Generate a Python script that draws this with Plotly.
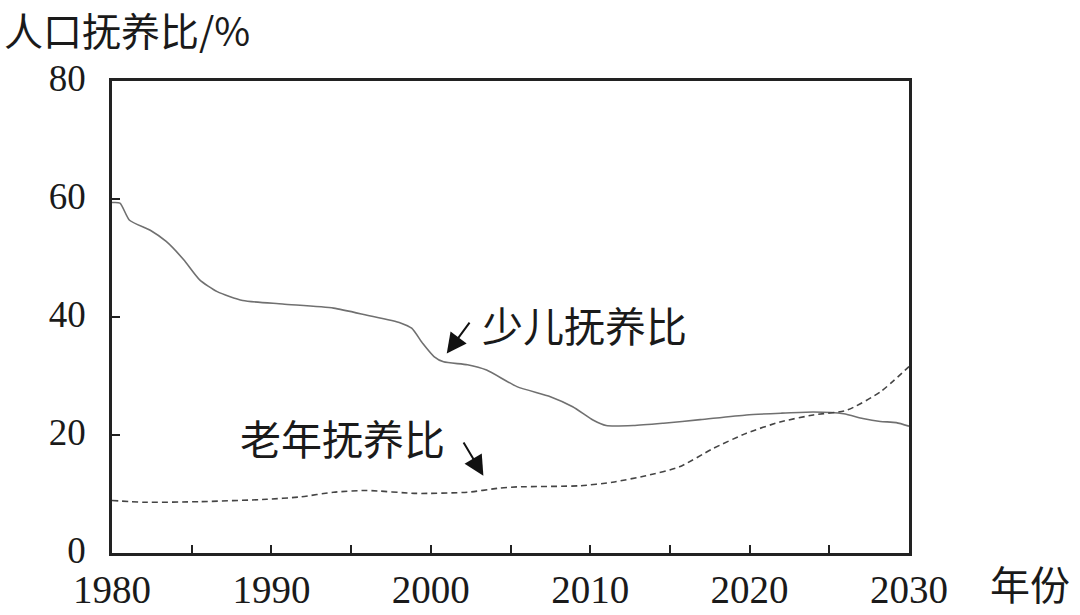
import plotly.graph_objects as go

# 少儿抚养比 (solid)
young_years = [1980.0, 1980.5, 1981.1, 1982.4, 1983.4, 1984.5, 1985.5, 1986.6, 1988.2, 1990.7,
               1993.9, 1996.0, 1998.1, 1998.8, 1999.5, 2000.2, 2000.8, 2002.3, 2003.5, 2005.4, 2007.5,
               2008.9, 2010.2, 2011.0, 2012.7, 2014.6, 2016.9, 2019.8, 2022.0, 2024.0, 2025.9,
               2027.1, 2028.2, 2029.2, 2030.0]
young_vals = [59.4, 59.3, 56.4, 54.7, 52.8, 49.7, 46.3, 44.3, 42.8, 42.2,
              41.5, 40.3, 39.0, 38.1, 35.5, 33.3, 32.4, 31.9, 31.0, 28.2, 26.5,
              24.8, 22.5, 21.6, 21.6, 22.0, 22.6, 23.4, 23.7, 23.9, 23.6,
              22.8, 22.3, 22.1, 21.5]

# 老年抚养比 (dashed)
old_years = [1980.0, 1982.0, 1985.5, 1989.7, 1991.8, 1993.9, 1996.0, 1999.1, 2002.3, 2004.3,
             2005.4, 2009.4, 2011.4, 2013.5, 2015.6, 2017.7, 2019.8, 2021.9, 2024.0, 2026.1,
             2028.2, 2030.0]
old_vals = [8.9, 8.6, 8.7, 9.1, 9.5, 10.3, 10.6, 10.1, 10.3, 11.0,
            11.2, 11.4, 12.0, 13.1, 14.6, 17.7, 20.3, 22.2, 23.4, 24.2,
            27.3, 31.6]

x_tickvals = [1980, 1985, 1990, 1995, 2000, 2005, 2010, 2015, 2020, 2025, 2030]
x_ticktext = ["1980", "", "1990", "", "2000", "", "2010", "", "2020", "", "2030"]
y_tickvals = [0, 20, 40, 60, 80]
y_ticktext = ["0", "20", "40", "60", "80"]

FONT = "Liberation Serif, Noto Sans CJK SC, serif"
CJK = "Noto Sans CJK SC, Liberation Serif, serif"
TXT = "#1a1a1a"

fig = go.Figure()
fig.add_trace(go.Scatter(x=young_years, y=young_vals, mode="lines",
                         line=dict(color="#707070", width=1.6, shape="spline", smoothing=0.6),
                         showlegend=False, hoverinfo="skip"))
fig.add_trace(go.Scatter(x=old_years, y=old_vals, mode="lines",
                         line=dict(color="#444444", width=1.6, dash="6px,4px", shape="spline", smoothing=0.6),
                         showlegend=False, hoverinfo="skip"))

fig.update_layout(
    width=1080, height=615, autosize=False,
    margin=dict(l=112, r=171, t=81, b=62, autoexpand=False),
    paper_bgcolor="white", plot_bgcolor="white",
    font=dict(family=FONT, size=40, color=TXT),
    xaxis=dict(range=[1980, 2030], tickvals=x_tickvals, ticktext=x_ticktext,
               ticks="inside", ticklen=8, tickwidth=2, tickcolor="#222",
               showline=True, mirror=True, linewidth=2.5, linecolor="#222",
               showgrid=False, zeroline=False, ticklabelstandoff=0, automargin=False,
               tickfont=dict(family=FONT, size=39, color=TXT)),
    yaxis=dict(range=[0, 80], tickvals=y_tickvals, ticktext=y_ticktext,
               ticks="inside", ticklen=8, tickwidth=2, tickcolor="#222",
               showline=True, mirror=True, linewidth=2.5, linecolor="#222",
               showgrid=False, zeroline=False, ticklabelstandoff=16, automargin=False,
               ticklabelshift=-3,
               tickfont=dict(family=FONT, size=37, color=TXT)),
)

# titles
fig.add_annotation(text="人口抚养比/%", xref="paper", yref="paper", x=-110/797, y=1 + 52/472,
                   xanchor="left", yanchor="middle", showarrow=False,
                   font=dict(family=CJK, size=39, color=TXT))
fig.add_annotation(text="年份", xref="paper", yref="paper", x=1 + 79/797, y=-30/472,
                   xanchor="left", yanchor="middle", showarrow=False,
                   font=dict(family=CJK, size=40, color=TXT))

# series labels
fig.add_annotation(text="少儿抚养比", x=2003.1, y=38.8, xanchor="left", yanchor="middle",
                   showarrow=False, font=dict(family=CJK, size=41, color=TXT))
fig.add_annotation(text="老年抚养比", x=1987.9, y=19.6, xanchor="left", yanchor="middle",
                   showarrow=False, font=dict(family=CJK, size=41, color=TXT))

# arrows
fig.add_annotation(x=2001.0, y=33.8, ax=2002.5, ay=39.3, xref="x", yref="y", axref="x", ayref="y",
                   text="", showarrow=True, arrowhead=2, arrowsize=2.0, arrowwidth=2.0,
                   arrowcolor="#111")
fig.add_annotation(x=2003.3, y=13.1, ax=2002.0, ay=19.0, xref="x", yref="y", axref="x", ayref="y",
                   text="", showarrow=True, arrowhead=2, arrowsize=2.0, arrowwidth=2.0,
                   arrowcolor="#111")

fig.write_html("out.html")
